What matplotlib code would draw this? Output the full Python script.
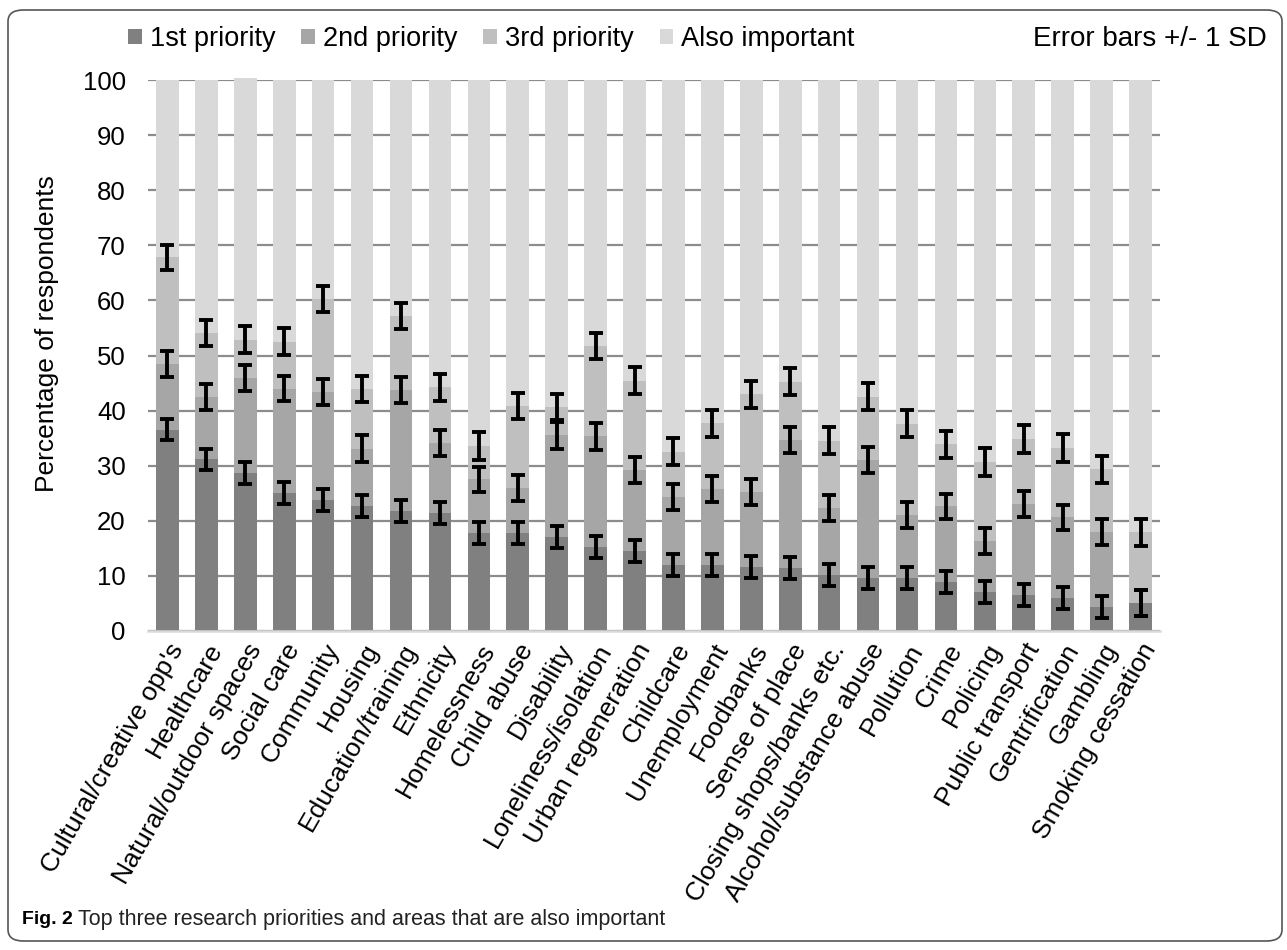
import matplotlib
matplotlib.use("Agg")
import matplotlib.pyplot as plt
from matplotlib.patches import FancyBboxPatch
import numpy as np

categories = ["Cultural/creative opp's", "Healthcare", "Natural/outdoor spaces", "Social care",
              "Community", "Housing", "Education/training", "Ethnicity", "Homelessness",
              "Child abuse", "Disability", "Loneliness/isolation", "Urban regeneration",
              "Childcare", "Unemployment", "Foodbanks", "Sense of place",
              "Closing shops/banks etc.", "Alcohol/substance abuse", "Pollution", "Crime",
              "Policing", "Public transport", "Gentrification", "Gambling", "Smoking cessation"]

first = [36.5, 31.2, 28.6, 25.1, 23.7, 22.6, 21.8, 21.4, 17.8, 17.8, 17.0, 15.3, 14.5,
         12.0, 11.9, 11.6, 11.5, 10.1, 9.7, 9.7, 8.9, 7.0, 6.5, 6.0, 4.4, 5.1]
second = [12.0, 11.3, 17.3, 18.9, 19.7, 10.5, 21.9, 12.8, 9.7, 8.2, 18.5, 20.0, 14.7,
          12.4, 13.8, 13.7, 23.2, 12.2, 21.3, 11.4, 13.7, 9.3, 16.5, 14.6, 13.6, 0.0]
third = [19.3, 11.6, 7.0, 8.5, 16.9, 10.8, 13.5, 10.0, 6.1, 14.8, 5.2, 16.4, 16.2,
         8.1, 12.0, 17.7, 10.5, 12.2, 11.5, 16.5, 11.3, 14.4, 11.8, 12.6, 11.4, 12.8]
also = [32.2, 45.9, 47.5, 47.5, 39.7, 56.1, 42.8, 55.8, 66.4, 59.2, 59.3, 48.3, 54.6,
        67.5, 62.3, 57.0, 54.8, 65.5, 57.5, 62.4, 66.1, 69.3, 65.2, 66.8, 70.6, 82.1]

# standard deviations for each priority level
sd_first = [1.9, 1.9, 2.0, 2.0, 2.0, 2.0, 2.0, 2.0, 2.0, 2.0, 2.0, 2.0, 2.0,
            2.0, 2.0, 2.0, 2.0, 2.0, 2.0, 2.0, 2.0, 2.0, 2.05, 2.05, 2.0, 2.3]
sd_second = [2.4, 2.4, 2.4, 2.3, 2.4, 2.4, 2.4, 2.35, 2.35, 2.35, 2.4, 2.4, 2.35,
             2.35, 2.35, 2.35, 2.4, 2.35, 2.4, 2.35, 2.35, 2.35, 2.35, 2.35, 2.35, 2.3]
sd_third = [2.3, 2.4, 2.4, 2.45, 2.4, 2.4, 2.4, 2.4, 2.5, 2.4, 2.4, 2.4, 2.45,
            2.45, 2.45, 2.45, 2.45, 2.45, 2.45, 2.45, 2.45, 2.5, 2.5, 2.5, 2.45, 2.45]

series_names = ["1st priority", "2nd priority", "3rd priority", "Also important"]
colors = ["#808080", "#a6a6a6", "#bfbfbf", "#d9d9d9"]

plt.rcParams['font.family'] = ['Liberation Sans', 'DejaVu Sans']

W, H = 1287, 950
fig = plt.figure(figsize=(W / 100, H / 100), dpi=100)
ax = fig.add_axes([148 / W, 1 - 631 / H, (1160 - 148) / W, (631 - 80) / H])

x = np.arange(len(categories))
width = 0.58
bottom = np.zeros(len(categories))
for vals, col, name in zip([first, second, third, also], colors, series_names):
    ax.bar(x, vals, width, bottom=bottom, color=col, label=name, zorder=2, clip_on=False)
    bottom = bottom + np.array(vals)

# error bars sit on top of each cumulative segment
tops = np.cumsum([first, second, third], axis=0)
for top, sd in zip(tops, [sd_first, sd_second, sd_third]):
    ax.errorbar(x, top, yerr=sd, fmt='none', ecolor='black', elinewidth=2.8,
                capsize=5, capthick=2.8, zorder=4)

ax.set_xlim(-0.5, len(categories) - 0.5)
ax.set_ylim(0, 100)
ax.set_yticks(range(0, 101, 10))
ax.yaxis.grid(True, color="#8c8c8c", linewidth=1.6, zorder=0)
ax.set_axisbelow(True)
for s in ["top", "right", "left"]:
    ax.spines[s].set_visible(False)
ax.spines["bottom"].set_color("#d9d9d9")
ax.spines["bottom"].set_linewidth(1.8)
ax.tick_params(axis='both', length=0, colors='black')
ax.tick_params(axis='y', pad=16, labelsize=18.5)
ax.set_xticks(x)
ax.set_xticklabels(categories, rotation=60, ha='right', va='top', rotation_mode='anchor', fontsize=19)
ax.tick_params(axis='x', pad=6)
ax.set_ylabel("Percentage of respondents", fontsize=19)
ax.yaxis.set_label_coords(-0.088, 0.54)

ax.legend(loc='center left', bbox_to_anchor=(-0.03, 1.0 + 41 / 551), ncol=4, frameon=False,
          fontsize=19.5, handlelength=0.5, handleheight=0.5, handletextpad=0.3,
          columnspacing=0.95, borderaxespad=0)
fig.text(1267 / W, 1 - 39 / H, "Error bars +/- 1 SD", fontsize=20, ha='right', va='center')

# rounded frame and caption
frame = FancyBboxPatch((8 / W, 9 / H), 1274 / W, 931 / H,
                       boxstyle="round,pad=0,rounding_size=0.012", transform=fig.transFigure,
                       fill=False, edgecolor="#555555", linewidth=1.2)
fig.patches.append(frame)
fig.text(22 / W, 1 - 920 / H, "Fig. 2", fontsize=14, fontweight='bold', va='center',
         family=['Liberation Sans Narrow', 'Liberation Sans'])
fig.text(78 / W, 1 - 920 / H, "Top three research priorities and areas that are also important",
         fontsize=15.5, va='center', color="#222222",
         family=['Liberation Sans Narrow', 'Liberation Sans'])

fig.savefig("out.png", dpi=100)
